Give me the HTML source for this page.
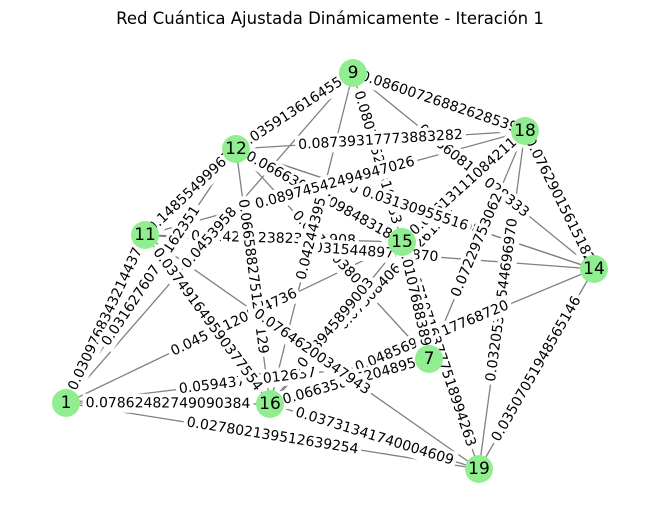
<!DOCTYPE html>
<html><head><meta charset="utf-8"><style>
html,body{margin:0;padding:0;background:#fff;width:660px;height:522px;overflow:hidden}
svg{display:block;font-family:"DejaVu Sans","Liberation Sans",sans-serif}
</style></head><body>
<svg id="g" width="660" height="522">
<text x="330" y="24" text-anchor="middle" font-size="16.5" fill="#000">Red Cuántica Ajustada Dinámicamente - Iteración 1</text>
<g id="edges"></g><g id="labels"></g><g id="nodes"></g>
</svg>
<script>
const nodeIds=["9","18","12","11","15","14","7","1","16","19"];
const nodeX=[353,525,236,145,402,594,429,66,270,479];
const nodeY=[73,131,149,235,242,269,359,403,404,469];
const edgeFrom=["1","1","1","1","1","1","9","9","9","9","11","11","11","12","12","12","12","18","18","18","18","14","14","14","14","15","7","16","16","11","9","11","15","12","7","1"];
const edgeTo=["11","12","15","7","16","19","12","18","15","14","12","15","16","16","15","18","7","16","14","19","15","19","16","12","11","19","16","19","15","19","16","18","7","14","18","9"];
const edgeW=["0.0309768343214437","0.03162760745162351","0.04505120844736","0.05943745012637","0.07862482749090384","0.027802139512639254","0.0359136164553","0.08600726882628539","0.08017525310283","0.06608139028333","0.14855499967","0.01423823823835908","0.037491649590377554","0.0665882751207129","0.06663098709848318","0.08739317773883282","0.04727038065","0.07308406691261237","0.07629015615182","0.03205320544696970","0.05613111084211","0.03507051948565146","0.04856991517768720","0.03047705313098","0.03154489708870","0.07107163777518994263","0.06635886204895","0.03731341740004609","0.08945899003","0.07646200347943","0.04244395","0.08974542494947026","0.01076883895","0.03130955516","0.07229753062","0.0453958"];
const NS="http://www.w3.org/2000/svg";
const idx=id=>nodeIds.indexOf(id);
const eg=document.getElementById('edges'),lg=document.getElementById('labels'),ng=document.getElementById('nodes');
for(let i=0;i<edgeFrom.length;i++){
  const a=idx(edgeFrom[i]),b=idx(edgeTo[i]);
  const x1=nodeX[a],y1=nodeY[a],x2=nodeX[b],y2=nodeY[b];
  const l=document.createElementNS(NS,'line');
  l.setAttribute('x1',x1);l.setAttribute('y1',y1);l.setAttribute('x2',x2);l.setAttribute('y2',y2);
  l.setAttribute('stroke','#808080');l.setAttribute('stroke-width','1.3');
  
  
  eg.appendChild(l);
  const mx=(x1+x2)/2,my=(y1+y2)/2;
  let ang=Math.atan2(y2-y1,x2-x1)*180/Math.PI;
  if(ang>90)ang-=180; if(ang<-90)ang+=180;
  const g=document.createElementNS(NS,'g');
  g.setAttribute('transform','translate('+mx+','+my+') rotate('+ang+')');
  
  
  const t=document.createElementNS(NS,'text');
  t.setAttribute('text-anchor','middle');t.setAttribute('dominant-baseline','central');
  t.setAttribute('font-size','14');t.setAttribute('fill','#000');
  t.textContent=edgeW[i];
  g.appendChild(t);lg.appendChild(g);
  const w=t.getComputedTextLength();
  const r=document.createElementNS(NS,'rect');
  r.setAttribute('x',-w/2-3);r.setAttribute('y',-9.5);r.setAttribute('width',w+6);r.setAttribute('height',19);
  r.setAttribute('fill','#fff');
  g.insertBefore(r,t);
}
for(let i=0;i<nodeIds.length;i++){
  const g=document.createElementNS(NS,'g');
  
  
  const c=document.createElementNS(NS,'circle');
  c.setAttribute('cx',nodeX[i]);c.setAttribute('cy',nodeY[i]);c.setAttribute('r',14);c.setAttribute('fill','#90ee90');
  const t=document.createElementNS(NS,'text');
  t.setAttribute('x',nodeX[i]);t.setAttribute('y',nodeY[i]);t.setAttribute('text-anchor','middle');
  t.setAttribute('dominant-baseline','central');t.setAttribute('font-size','17');t.textContent=nodeIds[i];
  g.appendChild(c);g.appendChild(t);ng.appendChild(g);
}
</script>
</body></html>
